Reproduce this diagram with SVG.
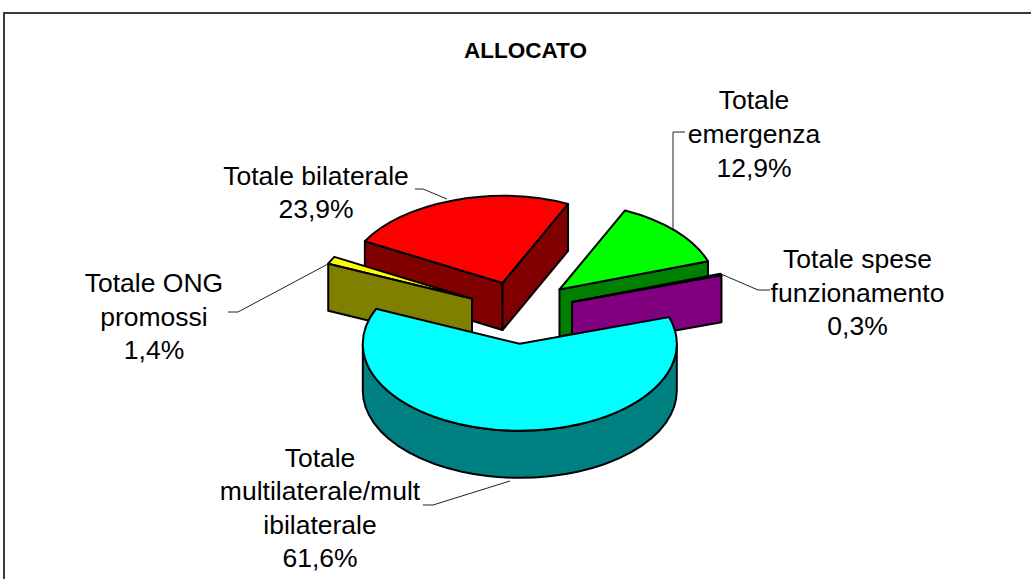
<svg xmlns="http://www.w3.org/2000/svg" width="1031" height="579" viewBox="0 0 1031 579">
  <style>
    .lbl { font-family: "Liberation Sans", Arial, sans-serif; font-size: 26.5px; fill: #000; text-anchor: middle; }
    .title { font-family: "Liberation Sans", Arial, sans-serif; font-size: 22.5px; font-weight: bold; fill: #000; text-anchor: middle; }
    .pie path { stroke: #000; stroke-width: 2; stroke-linejoin: round; }
    .lead { fill: none; stroke: #222; stroke-width: 1; }
  </style>
  <rect x="0" y="0" width="1031" height="579" fill="#fff"/>
  <path d="M4,579 V13 H1031" fill="none" stroke="#3a3a3a" stroke-width="2"/>
  <text class="title" x="525.5" y="58">ALLOCATO</text>

  <g id="slice-bilaterale" class="pie">
    <path d="M502.5,283 L364.84,241.18 L364.84,288.18 L502.5,330 Z" fill="#800000"/>
    <path d="M502.5,283 L568.05,203.94 L568.05,250.94 L502.5,330 Z" fill="#800000"/>
    <path d="M502.5,283 L364.84,241.18 A157 87 0 0 1 568.05,203.94 Z" fill="#FF0000"/>
  </g>
  <g id="slice-emergenza" class="pie">
    <path d="M559.5,289.5 L708,261.3 L708,308.3 L559.5,336.5 Z" fill="#008000"/>
    <path d="M559.5,289.5 L625.05,210.44 A157 87 0 0 1 708,261.3 Z" fill="#00FF00"/>
  </g>
  <g id="slice-funzionamento" class="pie">
    <path d="M572,302 L721.45,275.33 L721.45,322.33 L572,349 Z" fill="#800080"/>
    <path d="M572,302 L720.5,273.8 A157 87 0 0 1 721.45,275.33 Z" fill="#800080"/>
  </g>
  <g id="slice-ong" class="pie">
    <path d="M472,298.7 L328.23,263.73 A157 87 0 0 1 334.34,256.88 Z" fill="#FFFF00"/>
    <path d="M472,298.7 L328.23,263.73 L328.23,310.73 L472,345.7 Z" fill="#808000"/>
  </g>
  <g id="slice-multilaterale" class="pie">
    <path d="M676.8,343.8 A157 87 0 0 1 362.8,343.8 L362.8,390.8 A157 87 0 0 0 676.8,390.8 Z" fill="#008080"/>
    <path d="M519.8,343.8 L669.25,317.14 A157 87 0 1 1 376.03,308.83 Z" fill="#00FFFF"/>
  </g>

  <g id="connectors">
    <polyline class="lead" points="415,189 423,189 447,199"/>
    <polyline class="lead" points="228,312 238,312 328,264"/>
    <polyline class="lead" points="685,132 673,132 673,229"/>
    <polyline class="lead" points="721,274 758,290 770,290"/>
    <polyline class="lead" points="423,505 433,505 510,481"/>
  </g>

  <g id="label-bilaterale">
    <text class="lbl" x="316" y="185">Totale bilaterale</text>
    <text class="lbl" x="316" y="218">23,9%</text>
  </g>
  <g id="label-emergenza">
    <text class="lbl" x="754" y="109">Totale</text>
    <text class="lbl" x="754" y="143">emergenza</text>
    <text class="lbl" x="754" y="177">12,9%</text>
  </g>
  <g id="label-funzionamento">
    <text class="lbl" x="857.5" y="268">Totale spese</text>
    <text class="lbl" x="857.5" y="301.5">funzionamento</text>
    <text class="lbl" x="857.5" y="335">0,3%</text>
  </g>
  <g id="label-ong">
    <text class="lbl" x="154" y="292">Totale ONG</text>
    <text class="lbl" x="154" y="325.5">promossi</text>
    <text class="lbl" x="154" y="359">1,4%</text>
  </g>
  <g id="label-multilaterale">
    <text class="lbl" x="320" y="467">Totale</text>
    <text class="lbl" x="320" y="500">multilaterale/mult</text>
    <text class="lbl" x="320" y="533.5">ibilaterale</text>
    <text class="lbl" x="320" y="567">61,6%</text>
  </g>
</svg>
